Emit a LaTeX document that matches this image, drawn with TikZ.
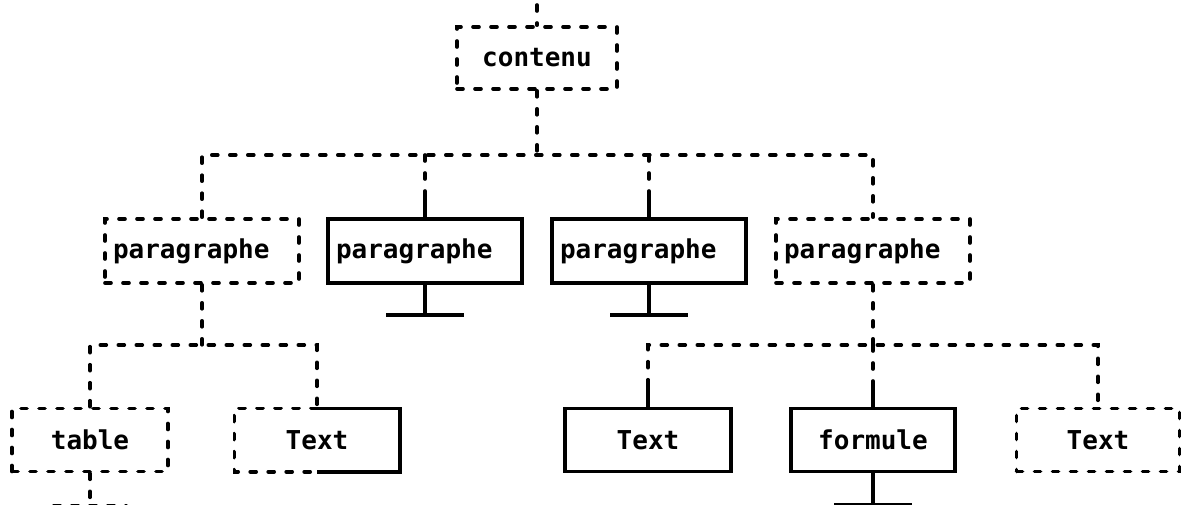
\documentclass[tikz,border=0pt]{standalone}
\usepackage{fontspec}
\setmonofont{DejaVu Sans Mono}
\begin{document}
\begin{tikzpicture}[x=1pt,y=-1pt,
  ln/.style={line width=3.6pt},
  dl/.style={ln, line cap=round, dash pattern=on 6pt off 12pt},
  sl/.style={ln, line cap=butt},
  lbl/.style={font=\ttfamily\bfseries\fontsize{26}{30}\selectfont, inner sep=0pt},
  parbox/.style={lbl, text width=178pt, inner xsep=8pt, align=left, minimum height=64pt},
  leafbox/.style={lbl, minimum width=#1, minimum height=63pt},
  dbox/.style={dl, draw},
  sbox/.style={sl, draw},
]
\useasboundingbox (0,0) rectangle (1188,505);

% root
\node[lbl, dbox, minimum width=160pt, minimum height=62pt] (ct) at (537,58) {contenu};

% second level
\node[parbox, dbox] (p1) at (202,251) {paragraphe};
\node[parbox, sbox] (p2) at (425,251) {paragraphe};
\node[parbox, sbox] (p3) at (649,251) {paragraphe};
\node[parbox, dbox] (p4) at (873,251) {paragraphe};

% third level
\node[leafbox=156pt, dbox] (tb) at (90,440) {table};
\node[leafbox=165pt] (t2) at (317,440) {Text};
\node[leafbox=166pt, sbox] (t3) at (648,440) {Text};
\node[leafbox=164pt, sbox] (fm) at (873,440) {formule};
\node[leafbox=163pt, dbox] (t5) at (1098,440) {Text};

% half dashed, half solid frame
\draw[dl] (t2.north) -| (t2.south west) -- (t2.south);
\draw[sl] (t2.north) -| (t2.south east) -- (t2.south);

% root links
\coordinate (top) at (537,5);
\coordinate (j1) at (537,155);
\draw[dl] (top) -- (ct.north);
\draw[dl] (ct.south) -- (j1);
\draw[dl] (p1.north) |- (j1) -| (p4.north);
\draw[dl] (p2.north |- j1) -- ([yshift=21pt]p2.north);
\draw[sl] ([yshift=21pt]p2.north) -- (p2.north);
\draw[dl] (p3.north |- j1) -- ([yshift=21pt]p3.north);
\draw[sl] ([yshift=21pt]p3.north) -- (p3.north);

% terminal stubs under p2 and p3
\draw[sl] (p2.south) -- ++(0,30) coordinate (g2);
\draw[sl] ([xshift=-39pt]g2) -- ([xshift=39pt]g2);
\draw[sl] (p3.south) -- ++(0,30) coordinate (g3);
\draw[sl] ([xshift=-39pt]g3) -- ([xshift=39pt]g3);

% p1 subtree
\coordinate (j2) at (202,345);
\draw[dl] (p1.south) -- (j2);
\draw[dl] (tb.north) |- (j2) -| (t2.north);
\draw[dl] (tb.south) -- ++(0,32) coordinate (g0);
\draw[dl] ([xshift=-36pt]g0) -- ([xshift=36pt]g0);

% p4 subtree
\coordinate (j3) at (873,345);
\draw[dl] (p4.south) -- (j3);
\draw[dl] ([yshift=21pt]t3.north) |- (j3) -| (t5.north);
\draw[sl] ([yshift=21pt]t3.north) -- (t3.north);
\draw[dl] (j3) -- ([yshift=21pt]fm.north);
\draw[sl] ([yshift=21pt]fm.north) -- (fm.north);
\draw[sl] (fm.south) -- ++(0,31) coordinate (g4);
\draw[sl] ([xshift=-39pt]g4) -- ([xshift=39pt]g4);
\end{tikzpicture}
\end{document}
